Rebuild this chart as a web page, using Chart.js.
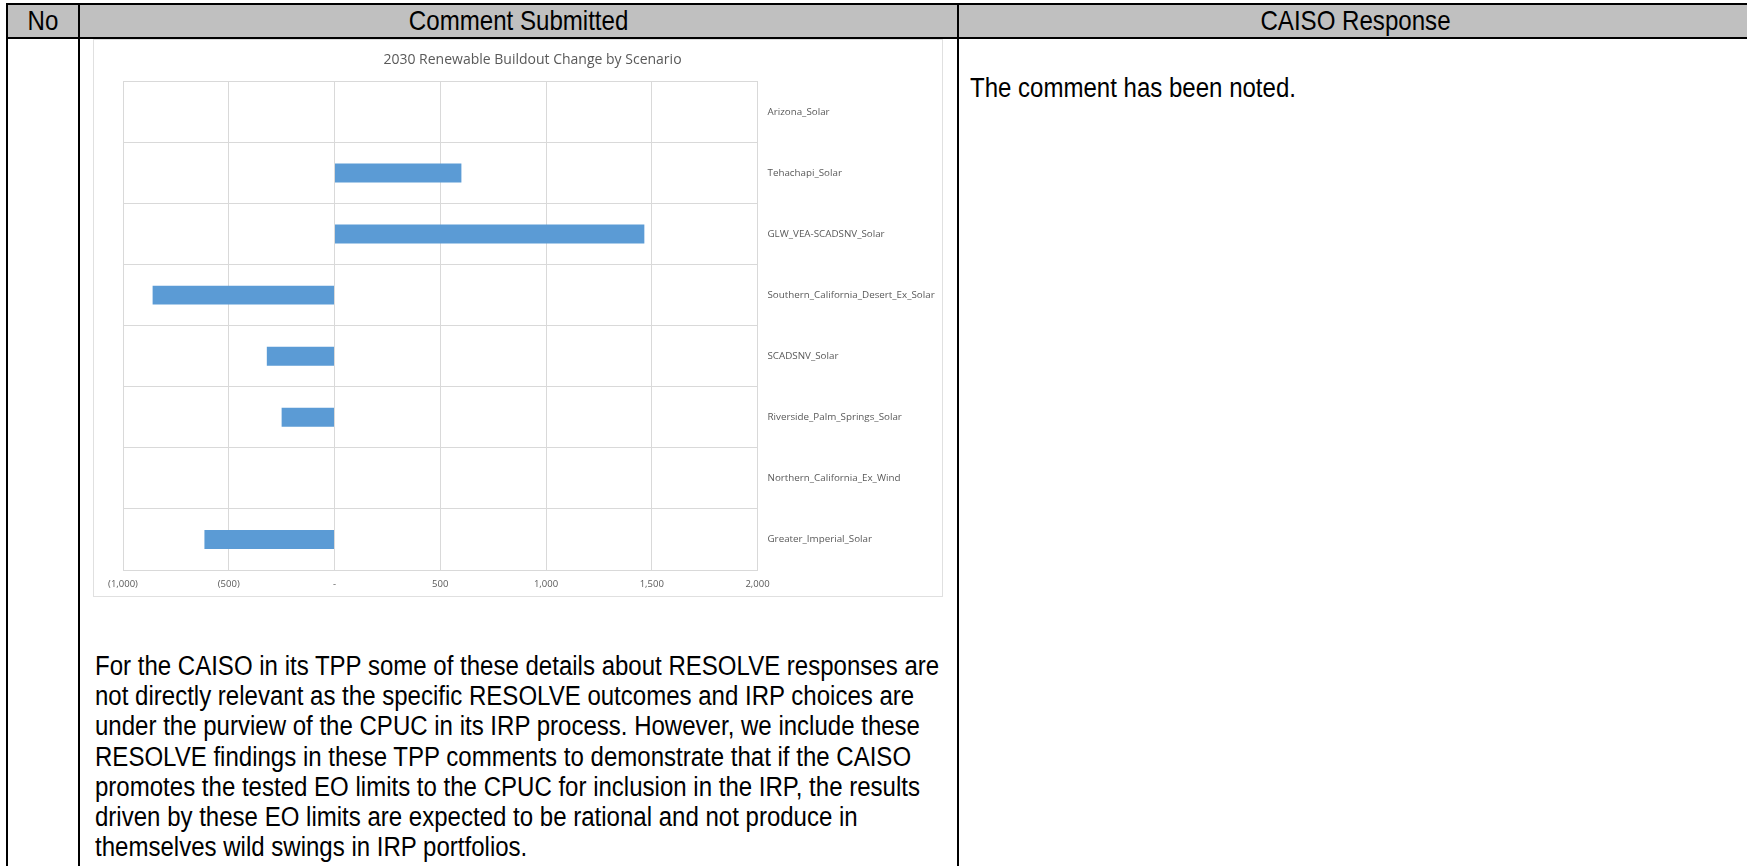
<!DOCTYPE html>
<html>
<head>
<meta charset="utf-8">
<script src="https://cdn.jsdelivr.net/npm/chart.js@4.4.1/dist/chart.umd.min.js"></script>
<style>
  html, body { margin: 0; padding: 0; background: #fff; }
  body { width: 1747px; height: 866px; overflow: hidden; position: relative; }
  .abs { position: absolute; }
  .line { position: absolute; background: #000; }
  .hdr { position: absolute; top: 5px; height: 32px; line-height: 32px; text-align: center; white-space: nowrap; }
  .hdr span { display: inline-block; transform: scaleX(0.86); transform-origin: 50% 50%;
              font-family: "Liberation Sans", Arial, sans-serif; font-size: 28px; color: #000; }
  .txt { font-family: "Liberation Sans", Arial, sans-serif; font-size: 27px; color: #000;
         white-space: pre; transform: scaleX(0.89); transform-origin: 0 0; }
  #chartBox { position: absolute; left: 93px; top: 39px; width: 850px; height: 558px;
              border: 1px solid #e0e0e0; box-sizing: border-box; background: #fff; }
</style>
</head>
<body>
  <!-- header background -->
  <div class="abs" style="left:7px; top:4px; width:1740px; height:34px; background:#c0c0c0;"></div>
  <!-- table lines -->
  <div class="line" style="left:6px; top:3px; width:1741px; height:2px;"></div>
  <div class="line" style="left:6px; top:37px; width:1741px; height:2px;"></div>
  <div class="line" style="left:6px; top:3px; width:2px; height:863px;"></div>
  <div class="line" style="left:78px; top:3px; width:2px; height:863px;"></div>
  <div class="line" style="left:957px; top:3px; width:2px; height:863px;"></div>

  <div class="hdr" style="left:8px; width:70px;"><span>No</span></div>
  <div class="hdr" style="left:80px; width:877px;"><span>Comment Submitted</span></div>
  <div class="hdr" style="left:1165px; width:380px;"><span>CAISO Response</span></div>

  <div class="abs txt" style="left:970px; top:72px; line-height:32px;">The comment has been noted.</div>

  <div id="chartBox"><canvas id="c" width="848" height="556"></canvas></div>

  <div class="abs txt" id="body" style="left:95px; top:651px; line-height:30.2px;">For the CAISO in its TPP some of these details about RESOLVE responses are
not directly relevant as the specific RESOLVE outcomes and IRP choices are
under the purview of the CPUC in its IRP process. However, we include these
RESOLVE findings in these TPP comments to demonstrate that if the CAISO
promotes the tested EO limits to the CPUC for inclusion in the IRP, the results
driven by these EO limits are expected to be rational and not produce in
themselves wild swings in IRP portfolios.</div>

<script>
const chartTitle = "2030 Renewable Buildout Change by Scenario";
const categories = [
  "Arizona_Solar",
  "Tehachapi_Solar",
  "GLW_VEA-SCADSNV_Solar",
  "Southern_California_Desert_Ex_Solar",
  "SCADSNV_Solar",
  "Riverside_Palm_Springs_Solar",
  "Northern_California_Ex_Wind",
  "Greater_Imperial_Solar"
];
const changeValues = [0, 600, 1465, -860, -320, -250, 0, -615];
const tickValues = [-1000, -500, 0, 500, 1000, 1500, 2000];
const tickLabels = ["(1,000)", "(500)", "-", "500", "1,000", "1,500", "2,000"];

const textGray = "#595959";
const gridGray = "#d9d9d9";

new Chart(document.getElementById("c"), {
  type: "bar",
  data: {
    labels: categories,
    datasets: [{
      data: changeValues,
      backgroundColor: "#5b9bd5",
      borderWidth: 0,
      categoryPercentage: 1.0,
      barPercentage: 0.31
    }]
  },
  options: {
    indexAxis: "y",
    responsive: false,
    animation: false,
    devicePixelRatio: 1,
    layout: { padding: { left: 29, right: 0, top: 0, bottom: 0 } },
    plugins: {
      legend: { display: false },
      tooltip: { enabled: false },
      title: {
        display: true,
        text: chartTitle,
        color: textGray,
        font: { family: "Open Sans", size: 14, weight: "normal", lineHeight: 1.2 },
        padding: { top: 12, bottom: 12.5 }
      }
    },
    scales: {
      x: {
        type: "linear",
        min: tickValues[0],
        max: tickValues[tickValues.length - 1],
        afterBuildTicks: (scale) => { scale.ticks = tickValues.map(v => ({ value: v })); },
        afterFit: (scale) => { scale.height = 26; },
        grid: { color: gridGray, lineWidth: 1, drawTicks: false },
        border: { color: gridGray },
        ticks: {
          color: textGray,
          padding: 9,
          maxRotation: 0,
          font: { family: "Open Sans", size: 9.5 },
          callback: (v) => tickLabels[tickValues.indexOf(v)]
        }
      },
      y: {
        position: "right",
        afterFit: (scale) => { scale.width = 184.5; },
        grid: { color: gridGray, lineWidth: 1, drawTicks: false, offset: true },
        border: { color: gridGray },
        ticks: {
          color: textGray,
          padding: 10,
          font: { family: "Open Sans", size: 9.8 }
        }
      }
    }
  }
});
</script>
</body>
</html>
